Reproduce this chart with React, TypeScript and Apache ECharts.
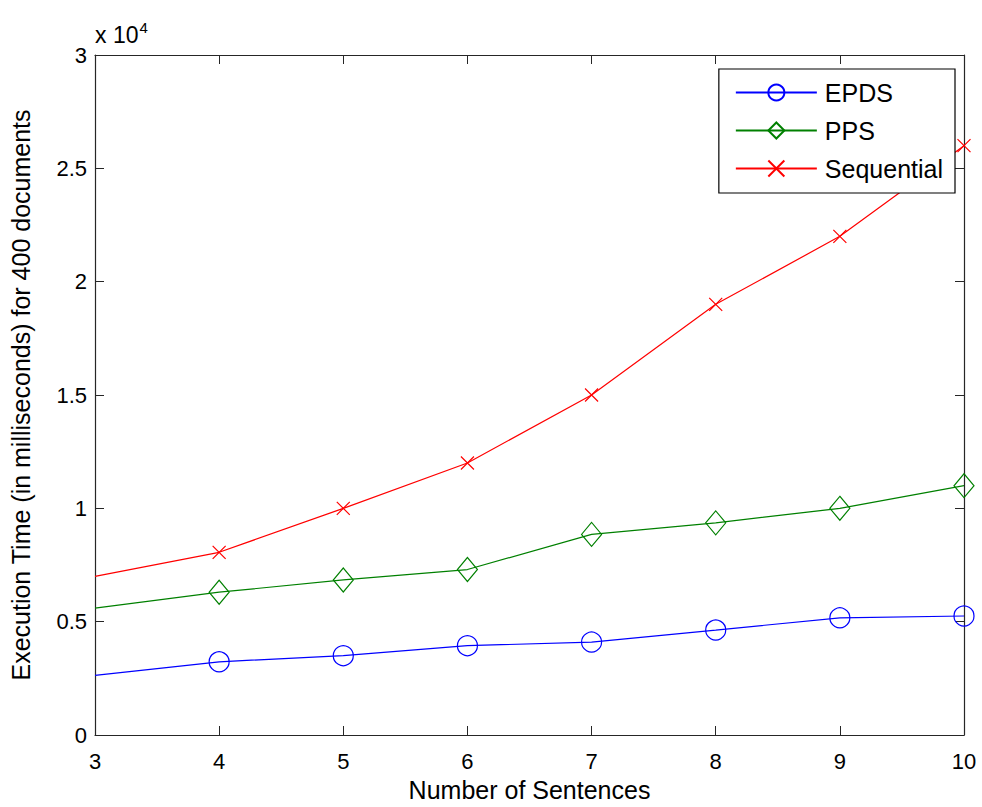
import React, { useEffect, useRef } from "react";
import * as echarts from "echarts";

const sentences = [3, 4, 5, 6, 7, 8, 9, 10];
const epds = [2630, 3230, 3500, 3940, 4100, 4630, 5170, 5250];
const pps = [5600, 6300, 6840, 7300, 8850, 9360, 10000, 11000];
const sequential = [7000, 8060, 10000, 12000, 15000, 19000, 22000, 26000];
const yTickLabels = ["0", "0.5", "1", "1.5", "2", "2.5", "3"];
const seriesNames = ["EPDS", "PPS", "Sequential"];

const FONT = "'Liberation Sans', Arial, Helvetica, sans-serif";
const AXIS_COLOR = "#262626";

function toData(vals: number[]) {
  return vals.map((v, i) =>
    i === 0 ? { value: [sentences[i], v], symbol: "none" } : { value: [sentences[i], v] }
  );
}

export default function App() {
  const ref = useRef<HTMLDivElement>(null);
  useEffect(() => {
    if (!ref.current) return;
    const chart = echarts.init(ref.current, undefined, { renderer: "svg" });
    const axisCommon = {
      axisLine: { show: true, onZero: false, lineStyle: { color: AXIS_COLOR, width: 1.2 } },
      axisTick: { show: true, inside: true, length: 9, lineStyle: { color: AXIS_COLOR, width: 1 } },
      splitLine: { show: false },
    };
    chart.setOption({
      animation: false,
      backgroundColor: "#ffffff",
      textStyle: { fontFamily: FONT },
      grid: { left: 95, right: 18, top: 55, bottom: 68, containLabel: false },
      legend: {
        data: seriesNames,
        orient: "vertical",
        right: 27,
        top: 69,
        backgroundColor: "#ffffff",
        borderColor: "#000000",
        borderWidth: 1.2,
        borderRadius: 0,
        padding: [11, 12, 12, 16],
        itemGap: 13,
        itemWidth: 81,
        itemHeight: 20,
        textStyle: { fontFamily: FONT, fontSize: 25, color: "#000", lineHeight: 25, padding: [0, 0, 0, 3] },
      },
      xAxis: [
        {
          type: "value",
          min: 3,
          max: 10,
          interval: 1,
          position: "bottom",
          name: "Number of Sentences",
          nameLocation: "middle",
          nameGap: 42,
          nameTextStyle: { fontFamily: FONT, fontSize: 25, color: "#000" },
          axisLabel: { fontFamily: FONT, fontSize: 22, color: "#000", margin: 15 },
          ...axisCommon,
        },
        {
          type: "value",
          min: 3,
          max: 10,
          interval: 1,
          position: "top",
          axisLabel: { show: false },
          ...axisCommon,
        },
      ],
      yAxis: [
        {
          type: "value",
          min: 0,
          max: 30000,
          interval: 5000,
          position: "left",
          name: "Execution Time (in milliseconds) for 400 documents",
          nameLocation: "middle",
          nameGap: 62,
          nameTextStyle: { fontFamily: FONT, fontSize: 25, color: "#000" },
          axisLabel: {
            fontFamily: FONT,
            fontSize: 22,
            color: "#000",
            margin: 8,
            formatter: (v: number) => yTickLabels[Math.round(v / 5000)] ?? "",
          },
          ...axisCommon,
        },
        {
          type: "value",
          min: 0,
          max: 30000,
          interval: 5000,
          position: "right",
          axisLabel: { show: false },
          ...axisCommon,
        },
      ],
      graphic: [
        {
          type: "text",
          left: 95,
          top: 20,
          style: {
            text: "x 10{sup|4}",
            fontFamily: FONT,
            fontSize: 23,
            fill: "#000",
            rich: { sup: { fontSize: 15, fontFamily: FONT, verticalAlign: "top", padding: [0, 0, 14, 1] } },
          },
        },
      ],
      series: [
        {
          name: "EPDS",
          type: "line",
          data: toData(epds),
          symbol: "circle",
          symbolSize: 20,
          showAllSymbol: true,
          lineStyle: { color: "#0000ff", width: 1.2 },
          itemStyle: { color: "rgba(0,0,0,0)", borderColor: "#0000ff", borderWidth: 1.2 },
          emphasis: { disabled: true },
        },
        {
          name: "PPS",
          type: "line",
          data: toData(pps),
          symbol: "diamond",
          symbolSize: [20, 24],
          showAllSymbol: true,
          lineStyle: { color: "#008000", width: 1.2 },
          itemStyle: { color: "rgba(0,0,0,0)", borderColor: "#008000", borderWidth: 1.2 },
          emphasis: { disabled: true },
        },
        {
          name: "Sequential",
          type: "line",
          data: toData(sequential),
          symbol: "path://M0,0L10,10M10,0L0,10",
          symbolSize: 13,
          showAllSymbol: true,
          lineStyle: { color: "#ff0000", width: 1.2 },
          itemStyle: { color: "rgba(0,0,0,0)", borderColor: "#ff0000", borderWidth: 1.2 },
          emphasis: { disabled: true },
        },
      ],
    });
    return () => chart.dispose();
  }, []);
  return <div ref={ref} style={{ width: 982, height: 807, position: "absolute", left: 0, top: 0 }} />;
}
